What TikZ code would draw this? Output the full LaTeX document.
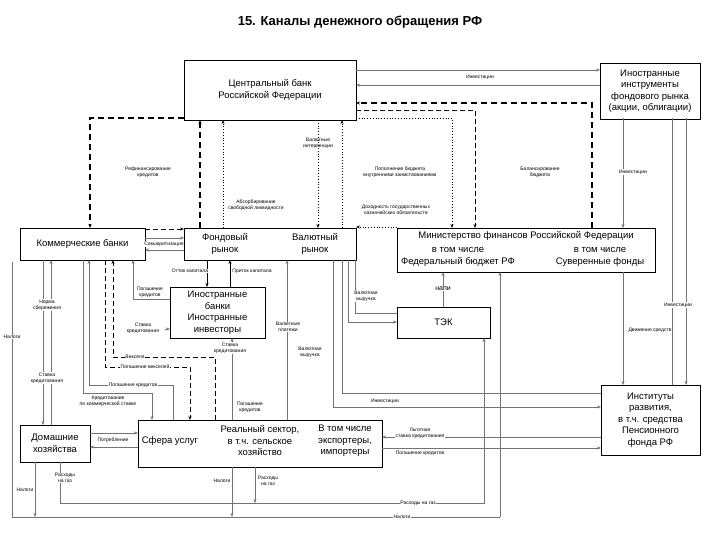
\documentclass[tikz,border=0pt]{standalone}
\usepackage{fontspec}
\setmainfont{Liberation Sans}
\usetikzlibrary{arrows.meta}
\begin{document}
\begin{tikzpicture}[x=1pt,y=-1pt,
  box/.style={draw,line width=0.8pt,fill=white,align=center,font=\fontsize{9.5}{11.5}\selectfont,inner sep=1pt},
  lbl/.style={font=\fontsize{5}{6}\selectfont,align=center,fill=white,inner sep=0.6pt},
  thin/.style={draw=black!55,line width=0.5pt},
  ar/.style={-{Stealth[length=4pt,width=3pt]}},
  bd/.style={line width=1.3pt,dash pattern=on 6pt off 4pt},
  md/.style={line width=0.8pt,dash pattern=on 5pt off 3pt},
  dt/.style={line width=0.8pt,dotted}]
\useasboundingbox (0,0) rectangle (720,540);
\fill[white] (0,0) rectangle (720,540);
\node[font=\bfseries\fontsize{13}{15}\selectfont] (title) at (360,22) {15. Каналы денежного обращения РФ};
% boxes
\node[box,minimum width=172,minimum height=60] (cb) at (270,90) {Центральный банк\\Российской Федерации};
\node[box,minimum width=100,minimum height=56] (fi) at (650,91) {Иностранные\\инструменты\\фондового рынка\\(акции, облигации)};
\node[box,minimum width=125,minimum height=32] (kb) at (82.5,244) {Коммерческие банки};
\node[box,minimum width=172,minimum height=32] (fr) at (270,244) {};
\node[font=\fontsize{9.5}{11.5}\selectfont,align=center] (frl) at (225,244) {Фондовый\\рынок};
\node[font=\fontsize{9.5}{11.5}\selectfont,align=center] (vrl) at (315,244) {Валютный\\рынок};
\node[box,minimum width=258,minimum height=44] (mf) at (526,250) {};
\node[font=\fontsize{9.5}{11.5}\selectfont,align=center] (mft) at (526,236) {Министерство финансов Российской Федерации};
\node[font=\fontsize{9.5}{11.5}\selectfont,align=center] (mfa) at (458,257) {в том числе\\Федеральный бюджет РФ};
\node[font=\fontsize{9.5}{11.5}\selectfont,align=center] (mfb) at (600,257) {в том числе\\Суверенные фонды};
\node[box,minimum width=93,minimum height=31] (tek) at (443.5,322.5) {ТЭК};
\node[box,minimum width=95,minimum height=51] (ib) at (217.5,312.5) {Иностранные\\банки\\Иностранные\\инвесторы};
\node[box,minimum width=244,minimum height=47] (rs) at (260,443.5) {};
\node[font=\fontsize{9.5}{11.5}\selectfont] (rs1) at (170,441) {Сфера услуг};
\node[font=\fontsize{9.5}{11.5}\selectfont,align=center] (rs2) at (260,441) {Реальный сектор,\\в т.ч. сельское\\хозяйство};
\node[font=\fontsize{9.5}{11.5}\selectfont,align=center] (rs3) at (345,441) {В том числе\\экспортеры,\\импортеры};
\node[box,minimum width=70,minimum height=37] (hh) at (55,443.5) {Домашние\\хозяйства};
\node[box,minimum width=99,minimum height=70] (inst) at (650.5,420) {Институты\\развития,\\в т.ч. средства\\Пенсионного\\фонда РФ};
% top connections
\draw[thin,ar] (356,70) -- (600,70);
\draw[thin,ar] (600,85) -- (356,85);
\node[lbl] (l1) at (480,77) {Инвестиции};
\draw[bd,ar] (592,228) -- (592,103) -- (356,103);
\node[lbl,fill=none] (l2) at (540,172) {Балансирование\\бюджета};
\draw[md,ar] (356,110) -- (475,110) -- (475,228);
\draw[dt,ar] (356,118) -- (452,118) -- (452,228);
\node[lbl] (l3) at (400,172) {Пополнение бюджета\\внутренними заимствованиями};
\draw[dt,ar] (397,227) -- (356,227);
\draw[dt,ar] (342,228) -- (342,120);
\node[lbl] (l4) at (396,210) {Доходность государственных\\казначейских обязательств};
\draw[thin,ar] (623,118) -- (623,228);
\node[lbl] (l5) at (633,172) {Инвестиции};
\draw[thin] (672,118) -- (672,385);
\draw[thin,ar] (686,118) -- (686,385);
\node[lbl] (l6) at (678,305) {Инвестиции};
\draw[thin,ar] (623,272) -- (623,385);
\node[lbl] (l7) at (650,330) {Движение средств};
% CB left side
\draw[bd,ar] (184,118) -- (90,118) -- (90,228);
\node[lbl] (l8) at (148,172) {Рефинансирование\\кредитов};
\draw[bd,ar] (200,228) -- (200,120);
\draw[dt,ar] (223,228) -- (223,120);
\node[lbl] (l9) at (256,205) {Абсорбирование\\свободной ликвидности};
\draw[dt,ar] (318,120) -- (318,228);
\node[lbl,fill=none] (l10) at (318,143) {Валютные\\интервенции};
\draw[md,ar] (145,229) -- (184,229);
\draw[thin,ar] (145,238) -- (184,238);
\draw[thin,ar] (184,250) -- (145,250);
\node[lbl] (l11) at (164,244) {Секьюритизация};
% fond <-> foreign banks
\draw[line width=0.6pt,ar] (207,260) -- (207,287);
\draw[line width=0.6pt,ar] (230,287) -- (230,260);
\node[lbl] (l12) at (190,271) {Отток капитала};
\node[lbl] (l13) at (252,271) {Приток капитала};
% commercial banks downward
\draw[thin,ar] (43,260) -- (43,425);
\draw[thin,ar] (51,425) -- (51,260);
\node[lbl] (l14) at (47,305) {Норма\\сбережения};
\node[lbl] (l15) at (47,378) {Ставка\\кредитования};
\draw[thin] (12,262) -- (12,517) -- (500,517);
\node[lbl] (l16) at (12,337) {Налоги};
\draw[thin,ar] (83,260) -- (83,393) -- (152,393) -- (152,420);
\node[lbl] (l17) at (108,401) {Кредитование\\по коммерческой ставке};
\draw[thin,ar] (173,420) -- (173,385) -- (89,385) -- (89,260);
\node[lbl] (l18) at (133,385) {Погашение кредитов};
\draw[md,ar] (105,260) -- (105,367) -- (190,367) -- (190,420);
\node[lbl] (l19) at (145,367) {Погашение векселей};
\draw[md,ar] (215,420) -- (215,357) -- (113,357) -- (113,260);
\node[lbl] (l20) at (135,357) {Векселя};
\draw[thin,ar] (170,299) -- (133,299) -- (133,260);
\node[lbl] (l21) at (150,292) {Погашение\\кредитов};
\draw[thin,ar] (165,329) -- (170,329);
\node[lbl,fill=none] (l22) at (143,328) {Ставка\\кредитования};
% foreign banks / real sector
\draw[thin,ar] (232,420) -- (232,338);
\node[lbl] (l23) at (230,348) {Ставка\\кредитования};
\node[lbl] (l24) at (250,407) {Погашение\\кредитов};
\draw[thin,ar] (287,420) -- (287,260);
\node[lbl] (l25) at (288,327) {Валютные\\платежи};
\node[lbl,fill=none] (l26) at (310,352) {Валютная\\выручка};
% valutny rynok -> TEK, institutes
\draw[thin,ar] (348,260) -- (348,322) -- (397,322);
\draw[thin] (355,260) -- (355,313) -- (397,313);
\node[lbl] (l27) at (366,296) {Валютная\\выручка};
\draw[thin] (342,260) -- (342,393) -- (601,393);
\draw[thin,ar] (333,260) -- (333,407) -- (601,407);
\node[lbl] (l28) at (385,401) {Инвестиции};
\draw[thin,ar] (443,307) -- (443,272);
\node[font=\fontsize{7}{8}\selectfont,fill=white,inner sep=0.5pt] (l29) at (443,289) {напи};
% households <-> real sector
\draw[thin,ar] (90,433) -- (138,433);
\draw[thin,ar] (138,447) -- (90,447);
\node[lbl] (l30) at (113,440) {Потребление};
\draw[thin,ar] (35,462) -- (35,517);
\node[lbl] (l31) at (25,490) {Налоги};
\draw[thin,ar] (60,462) -- (60,503) -- (484,503) -- (484,338);
\node[lbl] (l32) at (65,478) {Расходы\\на газ};
\draw[thin,ar] (232,467) -- (232,517);
\draw[thin,ar] (255,467) -- (255,503);
\node[lbl] (l33) at (222,481) {Налоги};
\node[lbl] (l34) at (268,481) {Расходы\\на газ};
\node[lbl] (l35) at (418,503) {Расходы на газ};
\draw[thin,ar] (500,517) -- (500,272);
\node[lbl] (l36) at (402,517) {Налоги};
% real sector <-> institutes
\draw[thin,ar] (601,437) -- (382,437);
\draw[thin,ar] (382,448) -- (601,448);
\node[lbl] (l37) at (420,433) {Льготная\\ставка кредитования};
\node[lbl] (l38) at (420,453) {Погашение кредитов};
\end{tikzpicture}
\end{document}
